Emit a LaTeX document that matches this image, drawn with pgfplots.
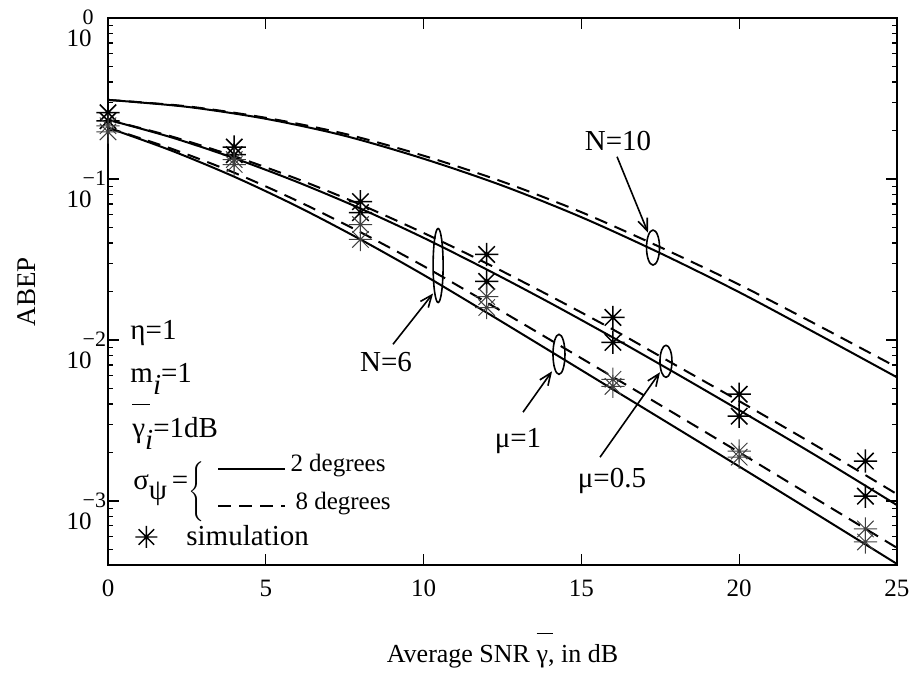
\documentclass[border=0pt]{standalone}
\usepackage{pgfplots}
\pgfplotsset{compat=1.18}
\usepackage{fontspec}
\setmainfont{Liberation Serif}
\usetikzlibrary{arrows.meta}
\pgfdeclareplotmark{ast8}{%
  \pgfpathmoveto{\pgfqpoint{-\pgfplotmarksize}{0pt}}%
  \pgfpathlineto{\pgfqpoint{\pgfplotmarksize}{0pt}}%
  \pgfpathmoveto{\pgfqpoint{0pt}{-\pgfplotmarksize}}%
  \pgfpathlineto{\pgfqpoint{0pt}{\pgfplotmarksize}}%
  \pgfpathmoveto{\pgfqpoint{-0.7071\pgfplotmarksize}{-0.7071\pgfplotmarksize}}%
  \pgfpathlineto{\pgfqpoint{0.7071\pgfplotmarksize}{0.7071\pgfplotmarksize}}%
  \pgfpathmoveto{\pgfqpoint{-0.7071\pgfplotmarksize}{0.7071\pgfplotmarksize}}%
  \pgfpathlineto{\pgfqpoint{0.7071\pgfplotmarksize}{-0.7071\pgfplotmarksize}}%
  \pgfusepathqstroke}
\newcommand{\ylab}[1]{10\rlap{\hspace{-4.5pt}\smash{\raisebox{10.8pt}{\fontsize{11}{11}\selectfont #1}}}}
\newcommand{\af}{\fontsize{14.5}{17}\selectfont}
\newcommand{\gbar}{\makebox[0pt][l]{\raisebox{1.1em}{\rule{0.62em}{0.05em}}}γ}
\begin{document}
\begin{tikzpicture}
\useasboundingbox (0,0) rectangle (459pt,342pt);
\begin{axis}[
  at={(54pt,59.5pt)}, anchor=south west,
  scale only axis, width=394.5pt, height=273.5pt,
  ymode=log, xmin=0, xmax=25, ymin=4e-4, ymax=1,
  xtick={0,5,10,15,20,25},
  ytick={1e-3,1e-2,1e-1,1},
  yticklabels={\ylab{−3},\ylab{−2},\ylab{−1},\ylab{0}},
  minor ytick={5e-4,6e-4,7e-4,8e-4,9e-4,2e-3,3e-3,4e-3,5e-3,6e-3,7e-3,8e-3,9e-3,2e-2,3e-2,4e-2,5e-2,6e-2,7e-2,8e-2,9e-2,0.2,0.3,0.4,0.5,0.6,0.7,0.8,0.9},
  tick align=inside, major tick length=5.5pt, minor tick length=2.5pt,
  tick style={black, line width=0.6pt},
  axis line style={line width=0.7pt},
  /pgf/number format/assume math mode=true,
  xticklabel style={font=\fontsize{12.5}{15}\selectfont, yshift=-4pt},
  yticklabel style={font=\fontsize{12.5}{15}\selectfont, anchor=east, inner sep=0pt, xshift=-8pt, yshift=-10pt},
  xlabel={Average SNR \gbar, in dB},
  ylabel={ABEP},
  every axis x label/.style={at={(axis description cs:0.5,-0.179)}, anchor=base, font=\fontsize{13}{15}\selectfont},
  every axis y label/.style={at={(axis description cs:-0.1027,0.5)}, anchor=center, rotate=90, font=\fontsize{13.5}{15}\selectfont},
  clip mode=individual,
  legend style={at={(axis description cs:0.0,0.0512)}, xshift=13.5pt, anchor=west, draw=none, fill=none, inner sep=0pt, font=\af},
  legend cell align=left,
]
\addlegendimage{only marks, mark=ast8, mark size=5.5pt, line width=0.7pt, black}
\addlegendentry{\hspace{12.5pt}simulation}

% N=10 solid
\addplot[black, line width=1pt, smooth] coordinates {
(0,0.310) (2.5,0.2807) (5,0.2365) (7.5,0.1855) (10,0.1336) (12.5,0.0909) (15,0.0579) (17.5,0.0346) (20,0.0198) (22.5,0.01083) (25,0.00586)};
% N=10 dashed
\addplot[black, line width=1pt, smooth, dash pattern=on 6.5pt off 4pt] coordinates {
(0,0.310) (2.5,0.2828) (5,0.2399) (7.5,0.1909) (10,0.1395) (12.5,0.0962) (15,0.0622) (17.5,0.0377) (20,0.02206) (22.5,0.01231) (25,0.00676)};
% N=6, mu=0.5 solid
\addplot[black, line width=1pt, smooth] coordinates {
(0,0.2333) (2,0.1816) (4,0.1346) (6,0.0957) (8,0.0655) (10,0.0431) (12,0.0274) (14,0.01702) (16,0.01035) (18,0.00619) (20,0.003664) (22.5,0.001879) (25,0.000942)};
% N=6, mu=0.5 dashed
\addplot[black, line width=1pt, smooth, dash pattern=on 6.5pt off 4pt] coordinates {
(0,0.2333) (2,0.1841) (4,0.1384) (6,0.1000) (8,0.0693) (10,0.0462) (12,0.0299) (14,0.0188) (16,0.01161) (18,0.00695) (20,0.00417) (22.5,0.002168) (25,0.001102)};
% N=6, mu=1 solid
\addplot[black, line width=1pt, smooth] coordinates {
(0,0.208) (2,0.1503) (4,0.1033) (6,0.0675) (8,0.0421) (10,0.02535) (12,0.01479) (14,0.00855) (16,0.00493) (18,0.002844) (20,0.001637) (22.5,0.000817) (25,0.000406)};
% N=6, mu=1 dashed
\addplot[black, line width=1pt, smooth, dash pattern=on 6.5pt off 4pt] coordinates {
(0,0.208) (2,0.1545) (4,0.1094) (6,0.0731) (8,0.0467) (10,0.02877) (12,0.01710) (14,0.01005) (16,0.00589) (18,0.003443) (20,0.002004) (22.5,0.001012) (25,0.000511)};

% simulation, mu=0.5
\addplot[only marks, mark=ast8, mark size=5.8pt, line width=0.75pt, black] coordinates {
(0,0.258) (4,0.158) (8,0.0723) (12,0.034) (16,0.0138) (20,0.0046) (24,0.00177)};
\addplot[only marks, mark=ast8, mark size=5.8pt, line width=0.75pt, black] coordinates {
(0,0.23) (4,0.1415) (8,0.0618) (12,0.0231) (16,0.00966) (20,0.00336) (24,0.00107)};
% simulation, mu=1
\addplot[only marks, mark=ast8, mark size=5.8pt, line width=0.5pt, black!75] coordinates {
(0,0.214) (4,0.132) (8,0.0521) (12,0.0186) (16,0.0057) (20,0.00204) (24,0.00067)};
\addplot[only marks, mark=ast8, mark size=5.8pt, line width=0.5pt, black!75] coordinates {
(0,0.196) (4,0.123) (8,0.0421) (12,0.0159) (16,0.00515) (20,0.00187) (24,0.000556)};

% annotations
\draw[line width=0.8pt] (axis cs:17.27,0.0375) ellipse [x radius=3.25pt, y radius=8.75pt];
\draw[line width=0.8pt, -{Straight Barb[length=6pt,width=5pt]}] (axis cs:16.13,0.1374) -- (axis cs:17.11,0.0465);
\node[font=\af] at (axis cs:16.16,0.1727) {N=10};

\draw[line width=0.8pt] (axis cs:10.46,0.029) ellipse [x radius=2.5pt, y radius=18.5pt];
\draw[line width=0.8pt, -{Straight Barb[length=6pt,width=5pt]}] (axis cs:9.03,0.0094) -- (axis cs:10.30,0.01945);
\node[font=\af] at (axis cs:8.81,0.00726) {N=6};

\draw[line width=0.8pt] (axis cs:14.29,0.00814) ellipse [x radius=3pt, y radius=10pt];
\draw[line width=0.8pt, -{Straight Barb[length=6pt,width=5pt]}] (axis cs:13.15,0.00356) -- (axis cs:14.07,0.00639);
\node[font=\af] at (axis cs:12.99,0.00235) {μ=1};

\draw[line width=0.8pt] (axis cs:17.68,0.00737) ellipse [x radius=3pt, y radius=8pt];
\draw[line width=0.8pt, -{Straight Barb[length=6pt,width=5pt]}] (axis cs:15.59,0.00187) -- (axis cs:17.49,0.0063);
\node[font=\af] at (axis cs:15.97,0.00133) {μ=0.5};

% parameter block
\node[font=\af, anchor=base west, inner sep=0pt] at (axis cs:0.70,0.010085) {η=1};
\node[font=\af, anchor=base west, inner sep=0pt] at (axis cs:0.70,0.00546) {m\raisebox{-6pt}{\itshape i}=1};
\node[font=\af, anchor=base west, inner sep=0pt] at (axis cs:0.76,0.002489) {\gbar\raisebox{-6pt}{\itshape i}=1dB};
\node[font=\af, anchor=base west, inner sep=0pt] at (axis cs:0.79,0.0011856) {σ\raisebox{-5pt}{ψ}\,=\raisebox{-5pt}{$\left\{\vcenter{\hbox{\rule{0pt}{27pt}}}\right.$}};
\draw[line width=0.8pt] (axis cs:3.49,0.00158) -- (axis cs:5.61,0.00158);
\draw[line width=0.8pt, dash pattern=on 6.5pt off 4pt] (axis cs:3.49,0.00093) -- (axis cs:5.61,0.00093);
\node[font=\fontsize{12.5}{15}\selectfont, anchor=base west, inner sep=0pt] at (axis cs:5.77,0.001532) {2 degrees};
\node[font=\fontsize{12.5}{15}\selectfont, anchor=base west, inner sep=0pt] at (axis cs:5.93,0.000891) {8 degrees};
\end{axis}
\end{tikzpicture}
\end{document}
